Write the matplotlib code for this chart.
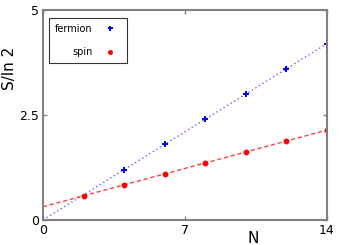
import numpy as np
import matplotlib
matplotlib.use("Agg")
import matplotlib.pyplot as plt

# data
n_fermion = [4, 6, 8, 10, 12, 14]
s_fermion = [1.2, 1.8, 2.4, 3.0, 3.6, 4.2]

n_spin = [2, 4, 6, 8, 10, 12, 14]
s_spin = [0.58, 0.83, 1.10, 1.36, 1.62, 1.88, 2.14]

x_ticks = [0, 7, 14]
y_ticks = [0, 2.5, 5]
y_tick_labels = ["0", "2.5", "5"]

# linear fits drawn over the full range
xfit = np.array([0, 14])
pf = np.polyfit(n_fermion, s_fermion, 1)
ps = np.polyfit(n_spin, s_spin, 1)

fig = plt.figure(figsize=(3.43, 2.45), dpi=100)
ax = fig.add_axes([43 / 343, 25 / 245, 284 / 343, 210 / 245])

ax.plot(xfit, np.polyval(pf, xfit), color="#6060ff", ls=(0, (1, 2)), lw=1.0)
ax.plot(xfit, np.polyval(ps, xfit), color="#ff4040", ls=(0, (3, 2)), lw=1.0)
ax.plot(n_fermion, s_fermion, "+", color="blue", ms=4.5, mew=1.4, label="fermion")
ax.plot(n_spin, s_spin, "o", color="red", ms=3.2, mec="red", label="spin")

ax.set_xlim(0, 14)
ax.set_ylim(0, 5)
ax.set_xticks(x_ticks)
ax.set_yticks(y_ticks)
ax.set_yticklabels(y_tick_labels)
ax.tick_params(direction="in", length=3, width=1, color="#808080",
               top=True, right=True, labelsize=9, pad=3)
for s in ax.spines.values():
    s.set_color("#808080")
    s.set_linewidth(1.5)

ax.set_xlabel("N", fontsize=11)
ax.xaxis.set_label_coords(0.74, -0.05)
ax.set_ylabel("S/ln 2", fontsize=11)
ax.yaxis.set_label_coords(-0.09, 0.72)

leg = ax.legend(loc="upper left", markerfirst=False, fontsize=7,
                frameon=True, fancybox=False, edgecolor="black",
                borderpad=0.6, labelspacing=1.4, handlelength=2.2,
                handletextpad=0.7, markerscale=0.8,
                bbox_to_anchor=(0.005, 0.985))
leg.get_frame().set_linewidth(0.8)
for t in leg.get_texts():
    t.set_ha("right")

fig.savefig("out.png", dpi=100)
